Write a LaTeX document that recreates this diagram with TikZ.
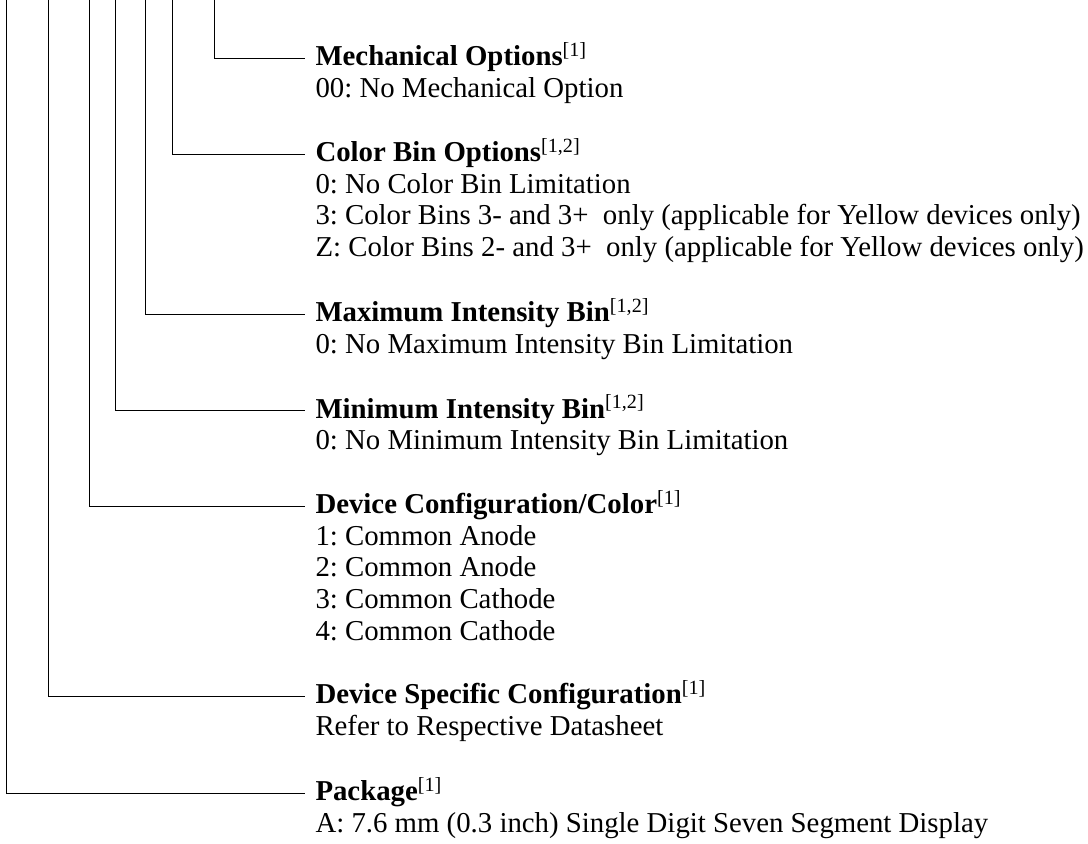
\documentclass[tikz,border=0pt]{standalone}
\usepackage{fontspec}
\setmainfont{Liberation Serif}
\frenchspacing
\begin{document}
\frenchspacing
\begin{tikzpicture}[x=1pt,y=-1pt,line width=1pt,
  ttl/.style={anchor=base west,inner sep=0pt,font=\fontsize{28.8}{31.7}\selectfont\bfseries},
  dsc/.style={anchor=base west,inner sep=0pt,font=\fontsize{28.8}{31.7}\selectfont}]
\newcommand{\fn}[1]{\textsuperscript{\normalfont[#1]}}
\useasboundingbox (0,0) rectangle (1088,844);
% tops of the vertical lines
\coordinate (t1) at (214,0);
\coordinate (t2) at (172,0);
\coordinate (t3) at (145.5,0);
\coordinate (t4) at (115.5,0);
\coordinate (t5) at (89.5,0);
\coordinate (t6) at (48,0);
\coordinate (t7) at (6,0);
% ends of the horizontal lines
\coordinate (e1) at (305,58);
\coordinate (e2) at (305,154);
\coordinate (e3) at (305,314);
\coordinate (e4) at (305,410.5);
\coordinate (e5) at (305,506);
\coordinate (e6) at (305,696);
\coordinate (e7) at (305,793);
\foreach \i in {1,...,7} { \draw (t\i) |- (e\i); }
% texts
\def\tx{315}
\node[ttl] (h1) at (\tx,65.5) {Mechanical Options\fn{1}};
\node[dsc] (d11) at (\tx,97.2) {00: No Mechanical Option};
\node[ttl] (h2) at (\tx,161.5) {Color Bin Options\fn{1,2}};
\node[dsc] (d21) at (\tx,193.2) {0: No Color Bin Limitation};
\node[dsc] (d22) at (\tx,224.9) {3: Color Bins 3- and 3+\ \ only (applicable for Yellow devices only)};
\node[dsc] (d23) at (\tx,256.6) {Z: Color Bins 2- and 3+\ \ only (applicable for Yellow devices only)};
\node[ttl] (h3) at (\tx,321.5) {Maximum Intensity Bin\fn{1,2}};
\node[dsc] (d31) at (\tx,353.2) {0: No Maximum Intensity Bin Limitation};
\node[ttl] (h4) at (\tx,418) {Minimum Intensity Bin\fn{1,2}};
\node[dsc] (d41) at (\tx,449.7) {0: No Minimum Intensity Bin Limitation};
\node[ttl] (h5) at (\tx,513.5) {Device Configuration/Color\fn{1}};
\node[dsc] (d51) at (\tx,545.2) {1: Common Anode};
\node[dsc] (d52) at (\tx,576.9) {2: Common Anode};
\node[dsc] (d53) at (\tx,608.6) {3: Common Cathode};
\node[dsc] (d54) at (\tx,640.3) {4: Common Cathode};
\node[ttl] (h6) at (\tx,703.5) {Device Specific Configuration\fn{1}};
\node[dsc] (d61) at (\tx,735.2) {Refer to Respective Datasheet};
\node[ttl] (h7) at (\tx,800.5) {Package\fn{1}};
\node[dsc] (d71) at (\tx,832.2) {A: 7.6 mm (0.3 inch) Single Digit Seven Segment Display};
\end{tikzpicture}
\end{document}
